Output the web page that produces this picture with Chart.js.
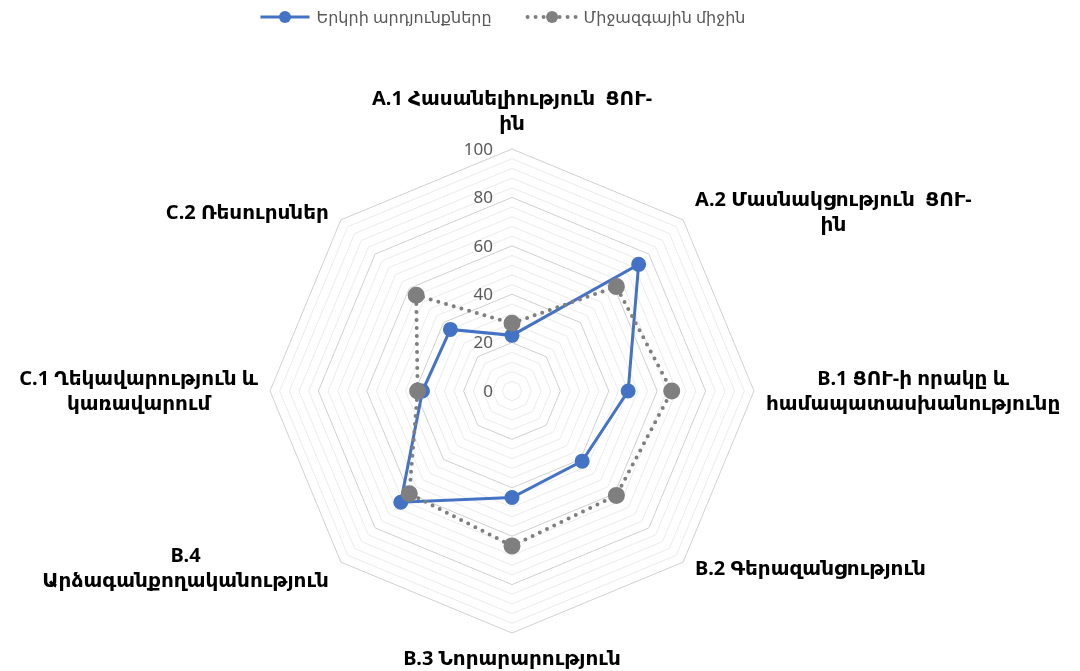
<!DOCTYPE html>
<html>
<head>
<meta charset="utf-8">
<script src="https://cdn.jsdelivr.net/npm/chart.js@4.4.1/dist/chart.umd.min.js"></script>
<style>
  html, body { margin: 0; padding: 0; background: #fff; }
  #wrap { width: 1080px; height: 671px; position: relative; }
</style>
</head>
<body>
<div id="wrap"><canvas id="radar"></canvas></div>
<script>
// categories (axes), clockwise from the top
const categories = [
  ['A.1 Հասանելիություն  ՑՈՒ-', 'ին'],
  ['A.2 Մասնակցություն  ՑՈՒ-', 'ին'],
  ['B.1 ՑՈՒ-ի որակը և', 'համապատասխանությունը'],
  ['B.2 Գերազանցություն'],
  ['B.3 Նորարարություն'],
  ['B.4', 'Արձագանքողականություն'],
  ['C.1 Ղեկավարություն և', 'կառավարում'],
  ['C.2 Ռեսուրսներ']
];
const seriesNames = ['Երկրի արդյունքները', 'Միջազգային միջին'];
const countryValues = [23, 74, 48, 41, 44, 65, 37, 36];
const averageValues = [28, 61, 66, 61, 64, 60, 39, 56];
const tickLabels = [0, 20, 40, 60, 80, 100];

const FONT = '"Noto Sans", "DejaVu Sans", sans-serif';
const BLUE = '#4472C4';
const GREY = '#7F7F7F';

// axis labels, lines centred inside their block like the original
const axisLabels = {
  id: 'axisLabels',
  afterDraw(chart) {
    const scale = chart.scales.r;
    const ctx = chart.ctx;
    ctx.save();
    ctx.font = 'bold 20px ' + FONT;
    ctx.fillStyle = '#000';
    ctx.textBaseline = 'middle';
    const lh = 25, pad = 12;
    categories.forEach((lines, i) => {
      const p = scale.getPointPosition(i, scale.drawingArea);
      const w = Math.max(...lines.map(l => ctx.measureText(l).width));
      const h = lines.length * lh;
      const dx = p.x - scale.xCenter, dy = p.y - scale.yCenter;
      let cx, cy;
      if (Math.abs(dx) < 1) cx = p.x;
      else if (dx > 0) cx = p.x + pad + w / 2;
      else cx = p.x - pad - w / 2;
      if (Math.abs(dx) < 1) cy = dy < 0 ? p.y - pad - h / 2 : p.y + pad + 2 + h / 2;
      else if (Math.abs(dy) < 1) cy = p.y + 1;
      else cy = p.y + Math.sign(dy) * 7;
      ctx.textAlign = 'center';
      lines.forEach((l, k) => ctx.fillText(l, cx, cy - h / 2 + lh / 2 + k * lh));
    });
    // tick labels, right aligned left of the vertical axis
    ctx.font = '17px ' + FONT;
    ctx.fillStyle = '#595959';
    ctx.textAlign = 'right';
    tickLabels.forEach(v => {
      const y = scale.yCenter - scale.getDistanceFromCenterForValue(v);
      ctx.fillText(String(v), scale.xCenter - 19, y + 1);
    });
    ctx.restore();
  }
};

// legend: line with marker in the middle, then the series name
const lineLegend = {
  id: 'lineLegend',
  afterDraw(chart) {
    const ctx = chart.ctx;
    ctx.save();
    ctx.font = '16px ' + FONT;
    ctx.textBaseline = 'middle';
    const y = 17, lineW = 53, gap = 5, between = 34, centre = 502;
    const items = chart.data.datasets.map(ds => ({ ds, tw: ctx.measureText(ds.label).width }));
    const total = items.reduce((s, it) => s + lineW + gap + it.tw, 0) + between * (items.length - 1);
    let x = centre - total / 2;
    items.forEach(({ ds, tw }) => {
      ctx.strokeStyle = ds.borderColor;
      ctx.lineWidth = ds.borderWidth;
      ctx.lineCap = ds.borderCapStyle || 'butt';
      ctx.setLineDash(ds.borderDash || []);
      ctx.beginPath();
      ctx.moveTo(x + 2, y);
      ctx.lineTo(x + lineW - 2, y);
      ctx.stroke();
      ctx.setLineDash([]);
      ctx.fillStyle = ds.pointBackgroundColor;
      ctx.beginPath();
      ctx.arc(x + lineW / 2, y, 6, 0, Math.PI * 2);
      ctx.fill();
      ctx.fillStyle = '#595959';
      ctx.textAlign = 'left';
      ctx.fillText(ds.label, x + lineW + gap, y + 1);
      x += lineW + gap + tw + between;
    });
    ctx.restore();
  }
};

new Chart(document.getElementById('radar'), {
  type: 'radar',
  data: {
    labels: categories,
    datasets: [
      {
        label: seriesNames[0],
        data: countryValues,
        borderColor: BLUE,
        backgroundColor: BLUE,
        pointBackgroundColor: BLUE,
        pointBorderColor: BLUE,
        borderWidth: 3,
        pointRadius: 6,
        fill: false,
        order: 1
      },
      {
        label: seriesNames[1],
        data: averageValues,
        borderColor: GREY,
        backgroundColor: GREY,
        pointBackgroundColor: GREY,
        pointBorderColor: GREY,
        borderWidth: 4,
        borderDash: [0, 8],
        borderCapStyle: 'round',
        pointRadius: 6.5,
        fill: false,
        order: 0
      }
    ]
  },
  options: {
    responsive: true,
    maintainAspectRatio: false,
    animation: false,
    layout: { padding: { left: 270, right: 326, top: 149, bottom: 38 } },
    plugins: { legend: { display: false }, tooltip: { enabled: false } },
    elements: { line: { tension: 0 } },
    scales: {
      r: {
        min: 0,
        max: 100,
        ticks: { stepSize: 4, display: false, showLabelBackdrop: false },
        pointLabels: { display: false },
        angleLines: { display: false },
        grid: {
          circular: false,
          lineWidth: 1,
          color: c => (c.tick && c.tick.value % 20 === 0) ? '#D0D0D0' : '#EBEBEB'
        }
      }
    }
  },
  plugins: [axisLabels, lineLegend]
});
</script>
</body>
</html>
